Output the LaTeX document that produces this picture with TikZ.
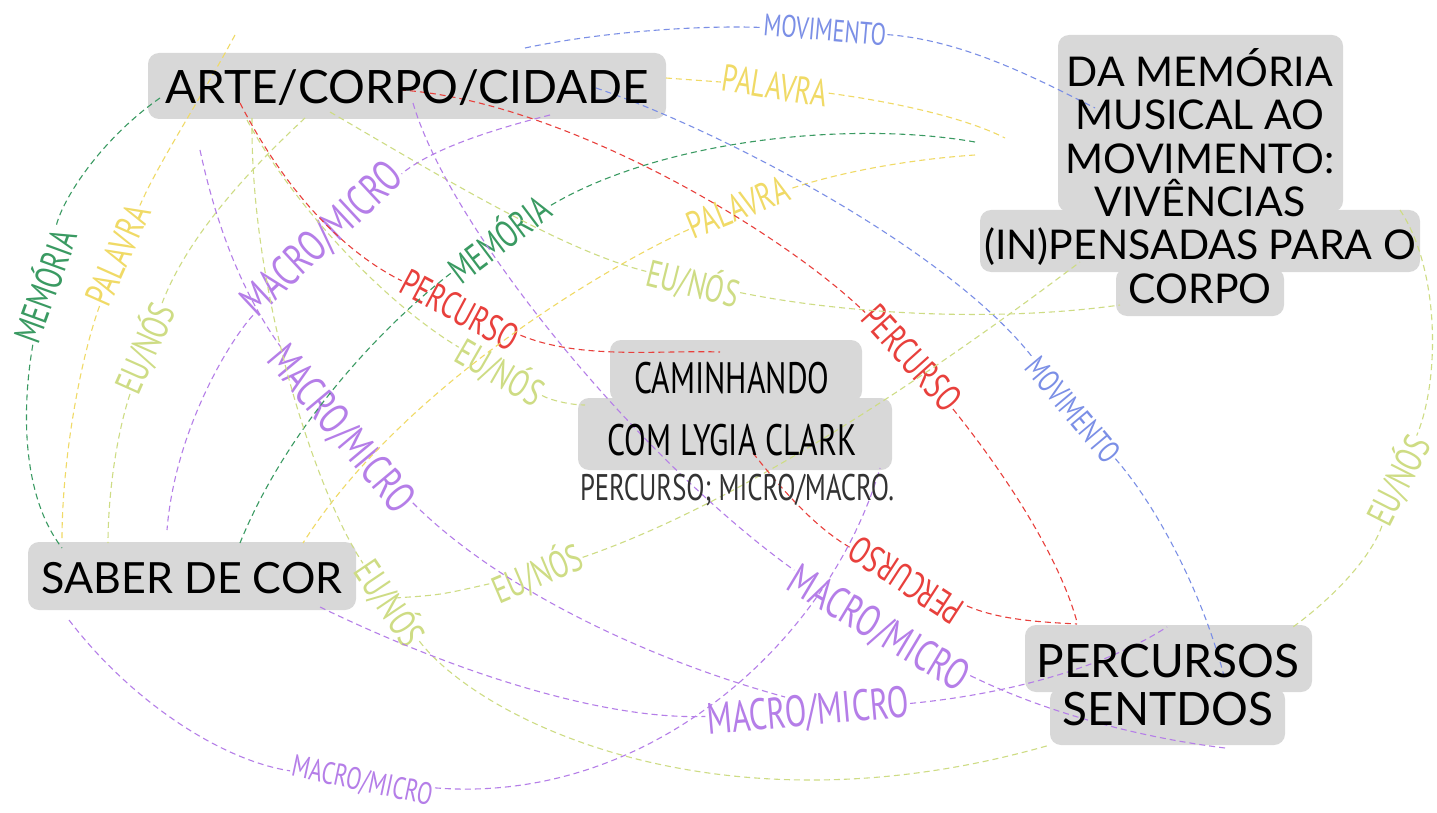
\documentclass[tikz,border=0pt]{standalone}
\usepackage{fontspec}
\setmainfont{Lato}
\newfontfamily\hand[FakeStretch=0.72]{PT Sans}
\definecolor{memcol}{HTML}{3A9A62}
\definecolor{palcol}{HTML}{F0DA66}
\definecolor{eucol}{HTML}{CEDC84}
\definecolor{percol}{HTML}{E8403C}
\definecolor{macol}{HTML}{B57EE8}
\definecolor{movcol}{HTML}{7B8FE6}
\definecolor{boxgray}{HTML}{D8D8D8}
\definecolor{subgray}{HTML}{333333}
\tikzset{
  nbox/.style={fill=boxgray, rounded corners=11pt, inner sep=0pt, draw=none},
  lab/.style={text=#1, font=\hand\fontsize{38}{38}\selectfont, inner sep=1pt},
  labsize/.style={font=\hand\fontsize{#1}{#1}\selectfont},
  link/.style={draw=#1, line width=1.1pt, dash pattern=on 6pt off 4pt},
  ntext/.style={text=black, align=center, inner sep=0pt},
}
\begin{document}
\begin{tikzpicture}[x=1pt,y=-1pt]
\useasboundingbox (0,0) rectangle (1437,813);
\fill[white] (0,0) rectangle (1437,813);

% ---- boxes ----
\node[nbox, minimum width=518pt, minimum height=66pt] (arteB) at (407,86) {};
\node[nbox, minimum width=285pt, minimum height=177pt] (damB1) at (1200.5,123.5) {};
\node[nbox, minimum width=440pt, minimum height=62pt] (damB2) at (1200,241) {};
\node[nbox, minimum width=168pt, minimum height=48pt] (damB3) at (1200,292) {};
\node[nbox, minimum width=252pt, minimum height=62pt] (camB1) at (736,371) {};
\node[nbox, minimum width=314pt, minimum height=72pt] (camB2) at (735,434) {};
\node[nbox, minimum width=328pt, minimum height=68pt] (saberB) at (192,576) {};
\node[nbox, minimum width=287pt, minimum height=67pt] (perB1) at (1168.5,658.5) {};
\node[nbox, minimum width=235pt, minimum height=57pt] (perB2) at (1167.5,716.5) {};

% ---- end points of connectors ----
\coordinate (g1a) at (160,98);   \coordinate (g1b) at (62,548);
\coordinate (g2a) at (975,142);  \coordinate (g2b) at (240,543);
\coordinate (y1a) at (666,78);   \coordinate (y1b) at (1005,138);
\coordinate (y2a) at (235,35);   \coordinate (y2b) at (62,540);
\coordinate (y3a) at (975,155);  \coordinate (y3b) at (303,543);
\coordinate (e1a) at (305,118);  \coordinate (e1b) at (108,543);
\coordinate (e2a) at (330,112);  \coordinate (e2b) at (1120,305);
\coordinate (e3a) at (247,120);  \coordinate (e3b) at (585,405);
\coordinate (e4a) at (252,118);  \coordinate (e4b) at (1050,745);
\coordinate (e5a) at (395,598);  \coordinate (e5b) at (1080,262);
\coordinate (e6a) at (1400,210); \coordinate (e6b) at (1293,627);
\coordinate (r1a) at (400,90);   \coordinate (r1b) at (1077,622);
\coordinate (r2a) at (240,103);  \coordinate (r2b) at (720,352);
\coordinate (r3a) at (753,453);  \coordinate (r3b) at (1077,624);
\coordinate (b1a) at (525,48);   \coordinate (b1b) at (1095,108);
\coordinate (b2a) at (596,88);   \coordinate (b2b) at (1225,680);
\coordinate (m1a) at (550,115);  \coordinate (m1b) at (167,530);
\coordinate (m2a) at (200,150);  \coordinate (m2b) at (785,697);
\coordinate (m3a) at (320,607);  \coordinate (m3b) at (1167,627);
\coordinate (m4a) at (413,103);  \coordinate (m4b) at (1225,748);
\coordinate (m5a) at (69,620);   \coordinate (m5b) at (880,468);

% ---- labels ----
\node[lab=memcol, rotate=70] (lG1) at (43,285) {MEMÓRIA};
\node[lab=memcol, rotate=37] (lG2) at (498,237) {MEMÓRIA};
\node[lab=palcol, rotate=-9] (lY1) at (775,86) {PALAVRA};
\node[lab=palcol, rotate=66] (lY2) at (118,255) {PALAVRA};
\node[lab=palcol, rotate=22] (lY3) at (738,207) {PALAVRA};
\node[lab=eucol, rotate=66] (lE1) at (145,348) {EU/NÓS};
\node[lab=eucol, rotate=-14] (lE2) at (693,283) {EU/NÓS};
\node[lab=eucol, rotate=-30] (lE3) at (500,372) {EU/NÓS};
\node[lab=eucol, rotate=-56] (lE4) at (390,603) {EU/NÓS};
\node[lab=eucol, rotate=23] (lE5) at (537,573) {EU/NÓS};
\node[lab=eucol, rotate=63] (lE6) at (1398,480) {EU/NÓS};
\node[lab=percol, rotate=-48] (lR1) at (912,358) {PERCURSO};
\node[lab=percol, rotate=-28] (lR2) at (460,310) {PERCURSO};
\node[lab=percol, rotate=147] (lR3) at (906,580) {PERCURSO};
\node[lab=movcol, labsize=31, rotate=-5] (lB1) at (825,30) {MOVIMENTO};
\node[lab=movcol, labsize=32, rotate=-50] (lB2) at (1073,410) {MOVIMENTO};
\node[lab=macol, labsize=44, rotate=43] (lM1) at (323,240) {MACRO/MICRO};
\node[lab=macol, labsize=44, rotate=-50] (lM2) at (340,430) {MACRO/MICRO};
\node[lab=macol, labsize=44, rotate=5] (lM3) at (808,713) {MACRO/MICRO};
\node[lab=macol, labsize=44, rotate=-31] (lM4) at (878,630) {MACRO/MICRO};
\node[lab=macol, labsize=31, rotate=-12] (lM5) at (362,782) {MACRO/MICRO};

% ---- connectors ----
\draw[link=memcol] (g1a) .. controls (100,140) and (62,200) .. (lG1);
\draw[link=memcol] (lG1) .. controls (20,420) and (25,500) .. (g1b);
\draw[link=memcol] (g2a) .. controls (850,120) and (660,140) .. (lG2);
\draw[link=memcol] (lG2) .. controls (390,320) and (290,420) .. (g2b);

\draw[link=palcol] (y1a) -- (lY1);
\draw[link=palcol] (lY1) .. controls (880,100) and (960,115) .. (y1b);
\draw[link=palcol] (y2a) .. controls (200,100) and (160,160) .. (lY2);
\draw[link=palcol] (lY2) .. controls (80,360) and (62,460) .. (y2b);
\draw[link=palcol] (y3a) .. controls (900,160) and (830,175) .. (lY3);
\draw[link=palcol] (lY3) .. controls (600,270) and (400,390) .. (y3b);

\draw[link=eucol] (e1a) .. controls (260,160) and (190,230) .. (lE1);
\draw[link=eucol] (lE1) .. controls (115,440) and (108,500) .. (e1b);
\draw[link=eucol] (e2a) .. controls (430,170) and (560,250) .. (lE2);
\draw[link=eucol] (lE2) .. controls (850,315) and (1000,322) .. (e2b);
\draw[link=eucol] (e3a) .. controls (290,200) and (380,300) .. (lE3);
\draw[link=eucol] (lE3) .. controls (550,400) and (570,405) .. (e3b);
\draw[link=eucol] (e4a) .. controls (250,300) and (320,500) .. (lE4);
\draw[link=eucol] (lE4) .. controls (480,720) and (720,840) .. (e4b);
\draw[link=eucol] (e5a) .. controls (440,595) .. (lE5);
\draw[link=eucol] (lE5) .. controls (750,500) and (950,360) .. (e5b);
\draw[link=eucol] (e6a) .. controls (1440,270) and (1440,380) .. (lE6);
\draw[link=eucol] (lE6) .. controls (1370,560) and (1330,600) .. (e6b);

\draw[link=percol] (r1a) .. controls (560,100) and (780,230) .. (lR1);
\draw[link=percol] (lR1) .. controls (1010,480) and (1060,560) .. (r1b);
\draw[link=percol] (r2a) .. controls (290,200) and (350,255) .. (lR2);
\draw[link=percol] (lR2) .. controls (580,360) and (660,350) .. (r2b);
\draw[link=percol] (r3a) .. controls (790,500) and (820,530) .. (lR3);
\draw[link=percol] (lR3) .. controls (1000,620) and (1040,622) .. (r3b);

\draw[link=movcol] (b1a) .. controls (600,32) and (700,25) .. (lB1);
\draw[link=movcol] (lB1) .. controls (960,40) and (1030,75) .. (b1b);
\draw[link=movcol] (b2a) .. controls (720,130) and (950,250) .. (lB2);
\draw[link=movcol] (lB2) .. controls (1160,510) and (1205,600) .. (b2b);

\draw[link=macol] (m1a) .. controls (490,130) and (430,150) .. (lM1);
\draw[link=macol] (lM1) .. controls (230,340) and (175,430) .. (m1b);
\draw[link=macol] (m2a) .. controls (215,220) and (240,290) .. (lM2);
\draw[link=macol] (lM2) .. controls (500,590) and (650,660) .. (m2b);
\draw[link=macol] (m3a) .. controls (450,670) and (600,720) .. (lM3);
\draw[link=macol] (lM3) .. controls (1000,695) and (1100,670) .. (m3b);
\draw[link=macol] (m4a) .. controls (450,230) and (640,460) .. (lM4);
\draw[link=macol] (lM4) .. controls (1030,705) and (1120,735) .. (m4b);
\draw[link=macol] (m5a) .. controls (130,700) and (220,760) .. (lM5);
\draw[link=macol] (lM5) .. controls (650,805) and (830,640) .. (m5b);

% ---- node texts ----
\node[ntext, font=\fontsize{46}{46}\selectfont] (arte) at (407,88) {ARTE/CORPO/CIDADE};
\node[ntext, font=\fontsize{41}{43.4}\selectfont] (dam) at (1200,176)
  {DA MEMÓRIA\\MUSICAL AO\\MOVIMENTO:\\VIVÊNCIAS\\(IN)PENSADAS PARA O\\CORPO};
\node[ntext, font=\hand\fontsize{44}{62}\selectfont] (cam) at (732,409)
  {CAMINHANDO\\COM LYGIA CLARK};
\node[ntext, text=subgray, font=\hand\fontsize{37}{37}\selectfont] (camsub) at (737,490)
  {PERCURSO; MICRO/MACRO.};
\node[ntext, font=\fontsize{43}{43}\selectfont] (saber) at (192,578) {SABER DE COR};
\node[ntext, font=\fontsize{46}{48}\selectfont] (per) at (1168,685) {PERCURSOS\\SENTDOS};
\end{tikzpicture}
\end{document}
